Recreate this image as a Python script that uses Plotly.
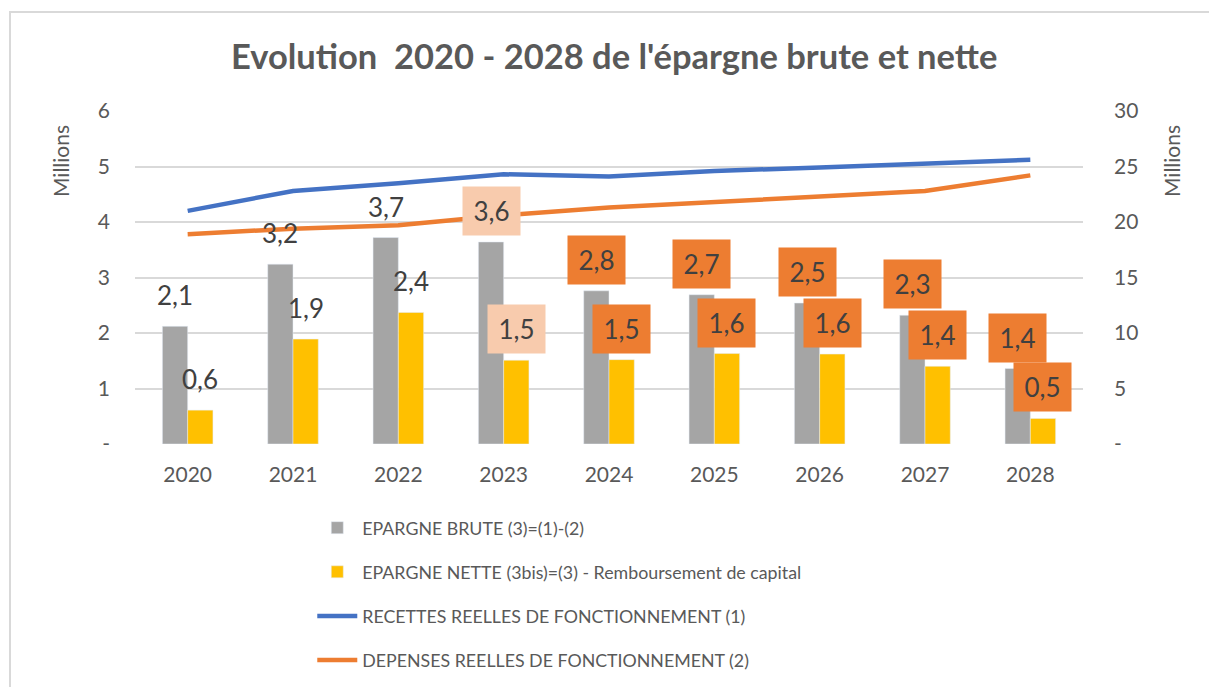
import plotly.graph_objects as go

years = ["2020", "2021", "2022", "2023", "2024", "2025", "2026", "2027", "2028"]
epargne_brute = [2.12, 3.24, 3.72, 3.64, 2.76, 2.69, 2.54, 2.32, 1.36]
epargne_nette = [0.61, 1.89, 2.37, 1.51, 1.52, 1.63, 1.62, 1.40, 0.46]
recettes = [21.0, 22.8, 23.5, 24.3, 24.1, 24.6, 24.9, 25.2, 25.6]
depenses = [18.9, 19.4, 19.7, 20.6, 21.3, 21.8, 22.3, 22.8, 24.2]

left_ticks = [0, 1, 2, 3, 4, 5, 6]
left_ticktext = ["-", "1", "2", "3", "4", "5", "6"]
right_ticks = [0, 5, 10, 15, 20, 25, 30]
right_ticktext = ["-", "5", "10", "15", "20", "25", "30"]

names = [
    "EPARGNE BRUTE (3)=(1)-(2)",
    "EPARGNE NETTE (3bis)=(3) - Remboursement de capital",
    "RECETTES REELLES DE FONCTIONNEMENT (1)",
    "DEPENSES REELLES DE FONCTIONNEMENT (2)",
]

# label box style per year (None = no box)
box_style = [None, None, None, "#F8CBAD", "#ED7D31", "#ED7D31", "#ED7D31", "#ED7D31", "#ED7D31"]

FONT = "Lato"
GREY_TXT = "#595959"
LABEL_TXT = "#404040"

fig = go.Figure()
fig.add_trace(go.Bar(x=years, y=epargne_brute, name=names[0], marker_color="#A5A5A5",
                     legendgroup="a", yaxis="y"))
fig.add_trace(go.Bar(x=years, y=epargne_nette, name=names[1], marker_color="#FFC000",
                     legendgroup="b", yaxis="y"))
fig.add_trace(go.Scatter(x=years, y=recettes, name=names[2], mode="lines",
                         line=dict(color="#4472C4", width=4.5), legendgroup="c", yaxis="y2"))
fig.add_trace(go.Scatter(x=years, y=depenses, name=names[3], mode="lines",
                         line=dict(color="#ED7D31", width=4.5), legendgroup="d", yaxis="y2"))

def fmt(v):
    return f"{v:.1f}".replace(".", ",")

annotations = []
for i, yr in enumerate(years):
    for vals, shift in ((epargne_brute, -12.6), (epargne_nette, 12.6)):
        a = dict(x=i, y=vals[i], xref="x", yref="y", text=fmt(vals[i]), showarrow=False,
                 xshift=shift, yshift=31, yanchor="middle", xanchor="center",
                 font=dict(family=FONT, size=26, color=LABEL_TXT))
        if box_style[i]:
            a.update(bgcolor=box_style[i], width=55, height=46, borderpad=1)
        annotations.append(a)

annotations.append(dict(text="Millions", xref="paper", yref="paper", x=(60 - 135) / 948,
                        y=(444 - 161) / 333, textangle=-90, showarrow=False,
                        xanchor="center", yanchor="middle",
                        font=dict(family=FONT, size=21, color=GREY_TXT)))
annotations.append(dict(text="Millions", xref="paper", yref="paper", x=(1171 - 135) / 948,
                        y=(444 - 161) / 333, textangle=-90, showarrow=False,
                        xanchor="center", yanchor="middle",
                        font=dict(family=FONT, size=21, color=GREY_TXT)))

fig.update_layout(
    width=1209, height=687,
    margin=dict(l=135, r=126, t=111, b=243, autoexpand=False),
    paper_bgcolor="white", plot_bgcolor="white",
    title=dict(text="<b>Evolution \u00a02020 - 2028 de l'épargne brute et nette</b>",
               x=0.508, xanchor="center", y=1 - 57 / 687, yanchor="middle",
               font=dict(family=FONT, size=34.5, color=GREY_TXT)),
    barmode="group", bargap=0.52, bargroupgap=0,
    xaxis=dict(type="category", range=[-0.5, 8.5], showgrid=False, showline=False, ticks="",
               ticklabelstandoff=16,
               tickfont=dict(family=FONT, size=21, color=GREY_TXT)),
    yaxis=dict(range=[0, 6], tickvals=left_ticks, ticktext=left_ticktext,
               showgrid=True, gridcolor="#D9D9D9", gridwidth=1.5, zeroline=False,
               showline=False, ticks="", ticklabelstandoff=24,
               tickfont=dict(family=FONT, size=21, color=GREY_TXT)),
    yaxis2=dict(range=[0, 30], tickvals=right_ticks, ticktext=right_ticktext,
                overlaying="y", side="right", showgrid=False, zeroline=False,
                showline=False, ticks="", ticklabelstandoff=30,
                tickfont=dict(family=FONT, size=21, color=GREY_TXT)),
    legend=dict(x=0.187, y=-0.197, xanchor="left", yanchor="top", orientation="v",
                traceorder="grouped", tracegroupgap=18, itemwidth=40,
                font=dict(family=FONT, size=17.8, color=GREY_TXT), bgcolor="rgba(0,0,0,0)"),
    annotations=annotations,
    shapes=[dict(type="rect", xref="paper", yref="paper",
                 x0=(10 - 135) / 948, x1=1.3, y0=-1.0, y1=(444 - 12) / 333,
                 line=dict(color="#D9D9D9", width=2), fillcolor="rgba(0,0,0,0)", layer="below")],
)

fig.write_html("out.html", config={"displayModeBar": False},
               post_script="document.body.style.margin='0';document.body.style.overflow='hidden';")
